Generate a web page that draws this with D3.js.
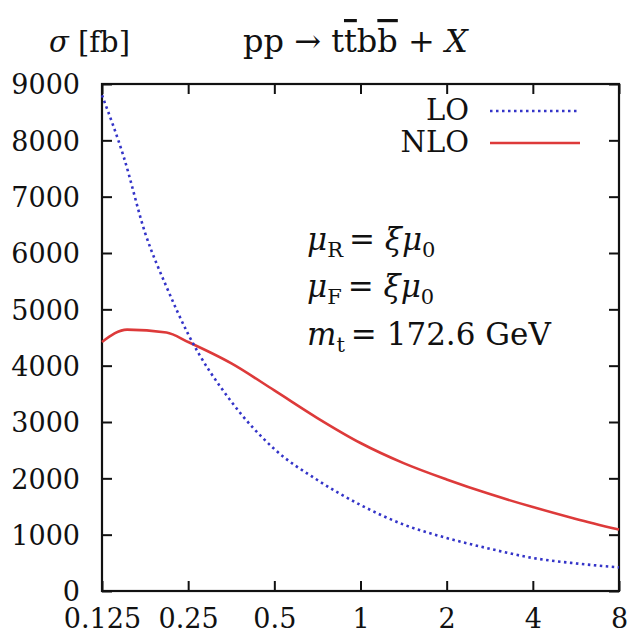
<!DOCTYPE html>
<html>
<head>
<meta charset="utf-8">
<script src="https://cdn.jsdelivr.net/npm/d3@7"></script>
<style>
  body { margin: 0; background: #fff; }
  svg text { font-family: "DejaVu Serif", "Liberation Serif", serif; fill: #111; }
</style>
</head>
<body>
<svg id="chart" width="638" height="637"></svg>
<script>
// scale factor xi, cross sections in fb
var loXi     = [0.125, 0.149, 0.177, 0.21, 0.25, 0.354, 0.5, 0.707, 1, 1.414, 2, 2.83, 4, 5.66, 8];
var loSigma  = [8800, 7700, 6350, 5400, 4560, 3360, 2520, 1970, 1527, 1180, 941, 750, 586, 490, 420];
var nloXi    = [0.125, 0.153, 0.21, 0.25, 0.354, 0.5, 0.707, 1, 1.414, 2, 2.83, 4, 5.66, 8];
var nloSigma = [4420, 4640, 4590, 4420, 4040, 3560, 3070, 2627, 2270, 1980, 1720, 1490, 1280, 1090];

var xTicks = [0.125, 0.25, 0.5, 1, 2, 4, 8];
var xTickLabels = ["0.125", "0.25", "0.5", "1", "2", "4", "8"];
var yTicks = [0, 1000, 2000, 3000, 4000, 5000, 6000, 7000, 8000, 9000];

var box = {left: 102, right: 619, top: 84, bottom: 591};
var serif = '"DejaVu Serif", "Liberation Serif", serif';

var svg = d3.select("#chart");
svg.append("rect").attr("width", 638).attr("height", 637).attr("fill", "#fff");

var x = d3.scaleLog().base(2).domain([0.125, 8]).range([box.left, box.right]);
var y = d3.scaleLinear().domain([0, 9000]).range([box.bottom, box.top]);

//
// axes: inward ticks, mirrored on top / right
function styleAxis(g) {
  g.attr("font-family", serif);
  g.select(".domain").remove();
  g.selectAll(".tick line").attr("stroke", "#111").attr("stroke-width", 2);
  g.selectAll("text").attr("fill", "#111");
}

svg.append("g")
  .attr("transform", "translate(0," + box.bottom + ")")
  .call(d3.axisBottom(x).tickValues(xTicks)
    .tickFormat((d, i) => xTickLabels[i])
    .tickSizeInner(-10).tickSizeOuter(0).tickPadding(18))
  .call(styleAxis)
  .selectAll("text").attr("font-size", 27);

svg.append("g")
  .attr("transform", "translate(0," + box.top + ")")
  .call(d3.axisTop(x).tickValues(xTicks).tickFormat("")
    .tickSizeInner(-10).tickSizeOuter(0))
  .call(styleAxis);

svg.append("g")
  .attr("transform", "translate(" + box.left + ",0)")
  .call(d3.axisLeft(y).tickValues(yTicks).tickFormat(d3.format("d"))
    .tickSizeInner(-10).tickSizeOuter(0).tickPadding(22))
  .call(styleAxis)
  .selectAll("text").attr("font-size", 27).attr("dy", "0.36em");

svg.append("g")
  .attr("transform", "translate(" + box.right + ",0)")
  .call(d3.axisRight(y).tickValues(yTicks).tickFormat("")
    .tickSizeInner(-10).tickSizeOuter(0))
  .call(styleAxis);

svg.append("rect")
  .attr("x", box.left).attr("y", box.top)
  .attr("width", box.right - box.left).attr("height", box.bottom - box.top)
  .attr("fill", "none").attr("stroke", "#111").attr("stroke-width", 2.2);

//
// curves
var line = d3.line()
  .x(d => x(d[0]))
  .y(d => y(d[1]))
  .curve(d3.curveMonotoneX);

svg.append("path")
  .datum(nloXi.map((v, i) => [v, nloSigma[i]]))
  .attr("d", line)
  .attr("fill", "none").attr("stroke", "#dd3a3a").attr("stroke-width", 2.6);

svg.append("path")
  .datum(loXi.map((v, i) => [v, loSigma[i]]))
  .attr("d", line)
  .attr("fill", "none").attr("stroke", "#3434c8").attr("stroke-width", 2.6)
  .attr("stroke-dasharray", "2.5,3.5");

//
// legend
var legend = [
  {label: "LO", y: 110, color: "#3434c8", dash: "2.5,3.5"},
  {label: "NLO", y: 142, color: "#dd3a3a", dash: null}
];
var lg = svg.append("g").selectAll("g").data(legend).enter().append("g");
lg.append("text")
  .attr("x", 469).attr("y", d => d.y).attr("dy", "0.36em")
  .attr("text-anchor", "end").attr("font-size", 29)
  .text(d => d.label);
lg.append("line")
  .attr("x1", 490).attr("x2", 580).attr("y1", d => d.y + 1).attr("y2", d => d.y + 1)
  .attr("stroke", d => d.color).attr("stroke-width", 2.6)
  .attr("stroke-dasharray", d => d.dash);

//
// titles
var yl = svg.append("text").attr("x", 49).attr("y", 52).attr("font-size", 29);
yl.append("tspan").attr("font-style", "italic").text("σ");
yl.append("tspan").text(" [fb]");

var title = svg.append("text").attr("x", 243).attr("y", 52).attr("font-size", 32);
title.append("tspan").text("pp → t");
title.append("tspan").style("text-decoration", "overline").text("t");
title.append("tspan").text("b");
title.append("tspan").style("text-decoration", "overline").text("b");
title.append("tspan").text(" + ");
title.append("tspan").attr("font-style", "italic").text("X");

//
// parameter block
var params = [
  {sym: "μ", sub: "R", rest: "= ", it: "ξμ", sub2: "0", y: 250},
  {sym: "μ", sub: "F", rest: "= ", it: "ξμ", sub2: "0", y: 297},
  {sym: "m", sub: "t", rest: "= 172.6 GeV", it: null, sub2: null, y: 345}
];
params.forEach(function(p) {
  var t = svg.append("text").attr("x", 307).attr("y", p.y).attr("font-size", 31);
  t.append("tspan").attr("font-style", "italic").text(p.sym);
  t.append("tspan").attr("font-size", 21).attr("dy", 7).text(p.sub);
  t.append("tspan").attr("dy", -7).attr("dx", 6).text(p.rest);
  if (p.it) t.append("tspan").attr("font-style", "italic").text(p.it);
  if (p.sub2) t.append("tspan").attr("font-size", 21).attr("dy", 7).text(p.sub2);
});
</script>
</body>
</html>
